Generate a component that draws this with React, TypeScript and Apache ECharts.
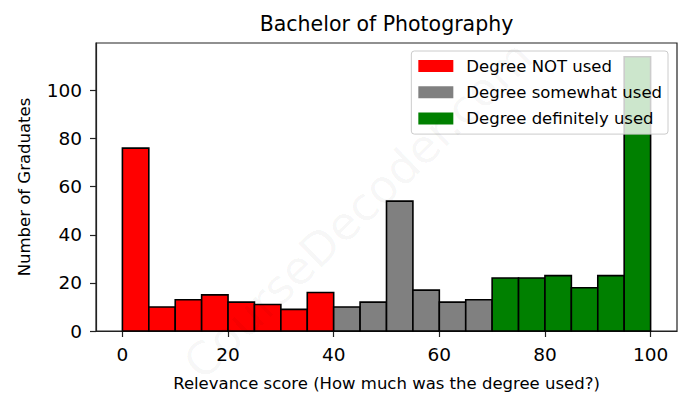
import React, { useEffect, useRef } from "react";
import * as echarts from "echarts";

// ---- Data (bins of width 5) ----
const notUsedBinStarts = [0, 5, 10, 15, 20, 25, 30, 35];
const notUsedCounts = [76, 10, 13, 15, 12, 11, 9, 16];

const somewhatBinStarts = [40, 45, 50, 55, 60, 65];
const somewhatCounts = [10, 12, 54, 17, 12, 13];

const definitelyBinStarts = [70, 75, 80, 85, 90, 95];
const definitelyCounts = [22, 22, 23, 18, 23, 114];

const binWidth = 5;

const xTicks = [0, 20, 40, 60, 80, 100];
const yTicks = [0, 20, 40, 60, 80, 100];

const titleText = "Bachelor of Photography";
const xAxisName = "Relevance score (How much was the degree used?)";
const yAxisName = "Number of Graduates";
const seriesNames = ["Degree NOT used", "Degree somewhat used", "Degree definitely used"];
const seriesColors = ["#ff0000", "#808080", "#008000"];
const watermark = "CourseDecoder.com";

const FONT = "DejaVu Sans";

function buildData(starts: number[], counts: number[]) {
  return starts.map((s, i) => [s, s + binWidth, counts[i]]);
}

export default function App() {
  const ref = useRef<HTMLDivElement>(null);

  useEffect(() => {
    document.body.style.margin = "0";
    if (!ref.current) return;
    const chart = echarts.init(ref.current, null, { renderer: "svg" });

    const makeSeries = (name: string, color: string, data: number[][]) => ({
      type: "custom",
      name,
      itemStyle: { color },
      encode: { x: [0, 1], y: 2 },
      data,
      renderItem: (params: any, api: any) => {
        const x0 = api.value(0);
        const x1 = api.value(1);
        const v = api.value(2);
        const pTop = api.coord([x0, v]);
        const pBot = api.coord([x1, 0]);
        return {
          type: "rect",
          shape: {
            x: pTop[0],
            y: pTop[1],
            width: pBot[0] - pTop[0],
            height: pBot[1] - pTop[1],
          },
          style: { fill: color, stroke: "#000000", lineWidth: 1.6 },
        };
      },
    });

    const axisLineStyle = { color: "#222222", width: 1.2 };

    const option: any = {
      animation: false,
      backgroundColor: "#ffffff",
      textStyle: { fontFamily: FONT },
      grid: {
        left: 96,
        right: 14,
        top: 43,
        bottom: 77,
        show: true,
        borderColor: "#222222",
        borderWidth: 1.2,
        backgroundColor: "transparent",
      },
      xAxis: {
        type: "value",
        min: -5,
        max: 105,
        name: xAxisName,
        nameLocation: "middle",
        nameGap: 44,
        nameTextStyle: { fontFamily: FONT, fontSize: 16.5, color: "#000" },
        axisLine: { show: true, onZero: false, lineStyle: axisLineStyle },
        splitLine: { show: false },
        axisTick: {
          show: true,
          inside: false,
          customValues: xTicks,
          length: 6,
          lineStyle: axisLineStyle,
        },
        axisLabel: {
          customValues: xTicks,
          margin: 14,
          fontFamily: FONT,
          fontSize: 18.5,
          color: "#000",
        },
      },
      yAxis: {
        type: "value",
        min: 0,
        max: 119.7,
        name: yAxisName,
        nameLocation: "middle",
        nameGap: 63,
        nameTextStyle: { fontFamily: FONT, fontSize: 16.5, color: "#000" },
        axisLine: { show: true, onZero: false, lineStyle: axisLineStyle },
        splitLine: { show: false },
        axisTick: {
          show: true,
          inside: false,
          customValues: yTicks,
          length: 6,
          lineStyle: axisLineStyle,
        },
        axisLabel: {
          customValues: yTicks,
          margin: 14,
          fontFamily: FONT,
          fontSize: 18.5,
          color: "#000",
        },
      },
      legend: {
        show: true,
        orient: "vertical",
        right: 23,
        top: 51,
        data: seriesNames.map((n) => ({ name: n, icon: "rect" })),
        itemWidth: 35,
        itemHeight: 12,
        itemGap: 9.3,
        padding: [6.5, 6, 7, 7],
        backgroundColor: "rgba(255,255,255,0.8)",
        borderColor: "#cccccc",
        borderWidth: 1,
        borderRadius: 3,
        itemStyle: { borderWidth: 0 },
        textStyle: {
          fontFamily: FONT,
          fontSize: 16.5,
          lineHeight: 17,
          color: "#000",
          padding: [0, 0, 0, 8],
        },
      },
      graphic: [
        {
          type: "text",
          x: 386.5,
          y: 24,
          style: {
            text: titleText,
            fontFamily: FONT,
            fontSize: 20.5,
            fill: "#000",
            align: "center",
            verticalAlign: "middle",
          },
        },
        {
          type: "text",
          x: 358,
          y: 210,
          rotation: (44 * Math.PI) / 180,
          z: 100,
          silent: true,
          style: {
            text: watermark,
            fontFamily: FONT,
            fontSize: 46,
            fill: "rgba(0,0,0,0.04)",
            align: "center",
            verticalAlign: "middle",
          },
        },
      ],
      series: [
        makeSeries(seriesNames[0], seriesColors[0], buildData(notUsedBinStarts, notUsedCounts)),
        makeSeries(seriesNames[1], seriesColors[1], buildData(somewhatBinStarts, somewhatCounts)),
        makeSeries(seriesNames[2], seriesColors[2], buildData(definitelyBinStarts, definitelyCounts)),
      ],
    };

    chart.setOption(option);
    return () => chart.dispose();
  }, []);

  return <div ref={ref} style={{ width: 691, height: 408 }} />;
}
